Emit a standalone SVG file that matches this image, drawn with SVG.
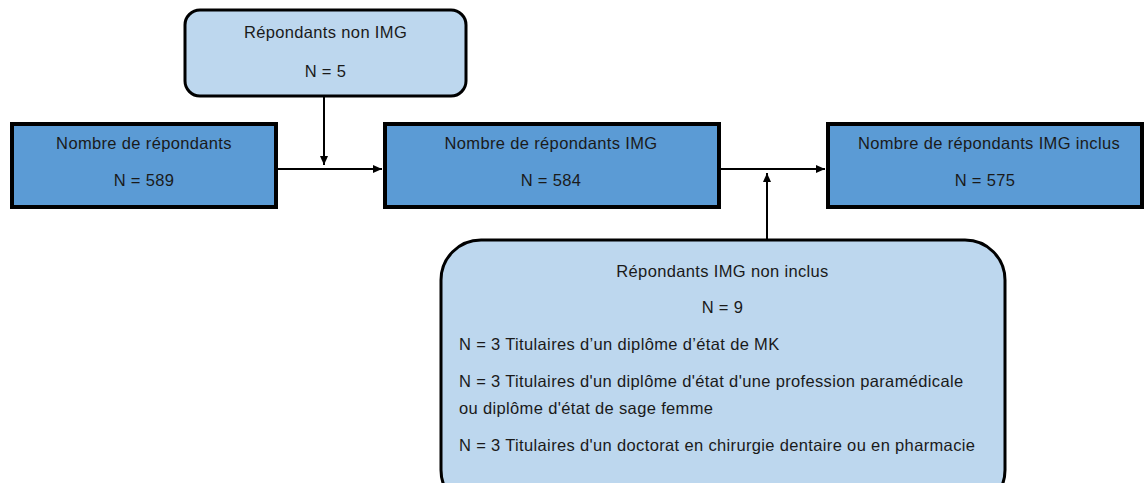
<svg xmlns="http://www.w3.org/2000/svg" width="1145" height="483" viewBox="0 0 1145 483">
<style>
.dark{fill:#5B9BD5;stroke:#000;stroke-width:4}
.light{fill:#BDD7EE;stroke:#000;stroke-width:3}
text{font-family:"Liberation Sans",Arial,sans-serif;font-size:16.5px;letter-spacing:0.35px;fill:#1a1a1a}
.c{text-anchor:middle}
.edge{stroke:#000;stroke-width:2;fill:none;marker-end:url(#arr)}
</style>
<defs>
<marker id="arr" markerWidth="10" markerHeight="10" refX="9" refY="5" orient="auto" markerUnits="userSpaceOnUse">
<path d="M0,1 L9,5 L0,9 Z" fill="#000"/>
</marker>
</defs>
<rect width="1145" height="483" fill="#fff"/>
<g id="connectors">
<path class="edge" d="M324,96 V165"/>
<path class="edge" d="M276,169 H382"/>
<path class="edge" d="M719,169 H825"/>
<path class="edge" d="M767,240 V173"/>
</g>
<g id="non-img">
<rect class="light" x="185" y="10" width="281" height="86" rx="15"/>
<text class="c" x="325.5" y="38">Répondants non IMG</text>
<text class="c" x="325.5" y="77">N = 5</text>
</g>
<g id="total">
<rect class="dark" x="12" y="124" width="264" height="83"/>
<text class="c" x="144" y="149">Nombre de répondants</text>
<text class="c" x="144" y="186">N = 589</text>
</g>
<g id="img">
<rect class="dark" x="385" y="124" width="334" height="83"/>
<text class="c" x="551" y="149">Nombre de répondants IMG</text>
<text class="c" x="551" y="186">N = 584</text>
</g>
<g id="inclus">
<rect class="dark" x="828" y="124" width="314" height="83"/>
<text class="c" x="989" y="149">Nombre de répondants IMG inclus</text>
<text class="c" x="985" y="186">N = 575</text>
</g>
<g id="non-inclus">
<rect class="light" x="441" y="240" width="564" height="270" rx="40"/>
<text class="c" x="722.5" y="277">Répondants IMG non inclus</text>
<text class="c" x="722.5" y="313">N = 9</text>
<text x="459" y="350">N = 3 Titulaires d’un diplôme d’état de MK</text>
<text x="459" y="387">N = 3 Titulaires d'un diplôme d'état d'une profession paramédicale</text>
<text x="459" y="414">ou diplôme d'état de sage femme</text>
<text x="459" y="451">N = 3 Titulaires d'un doctorat en chirurgie dentaire ou en pharmacie</text>
</g>
</svg>
